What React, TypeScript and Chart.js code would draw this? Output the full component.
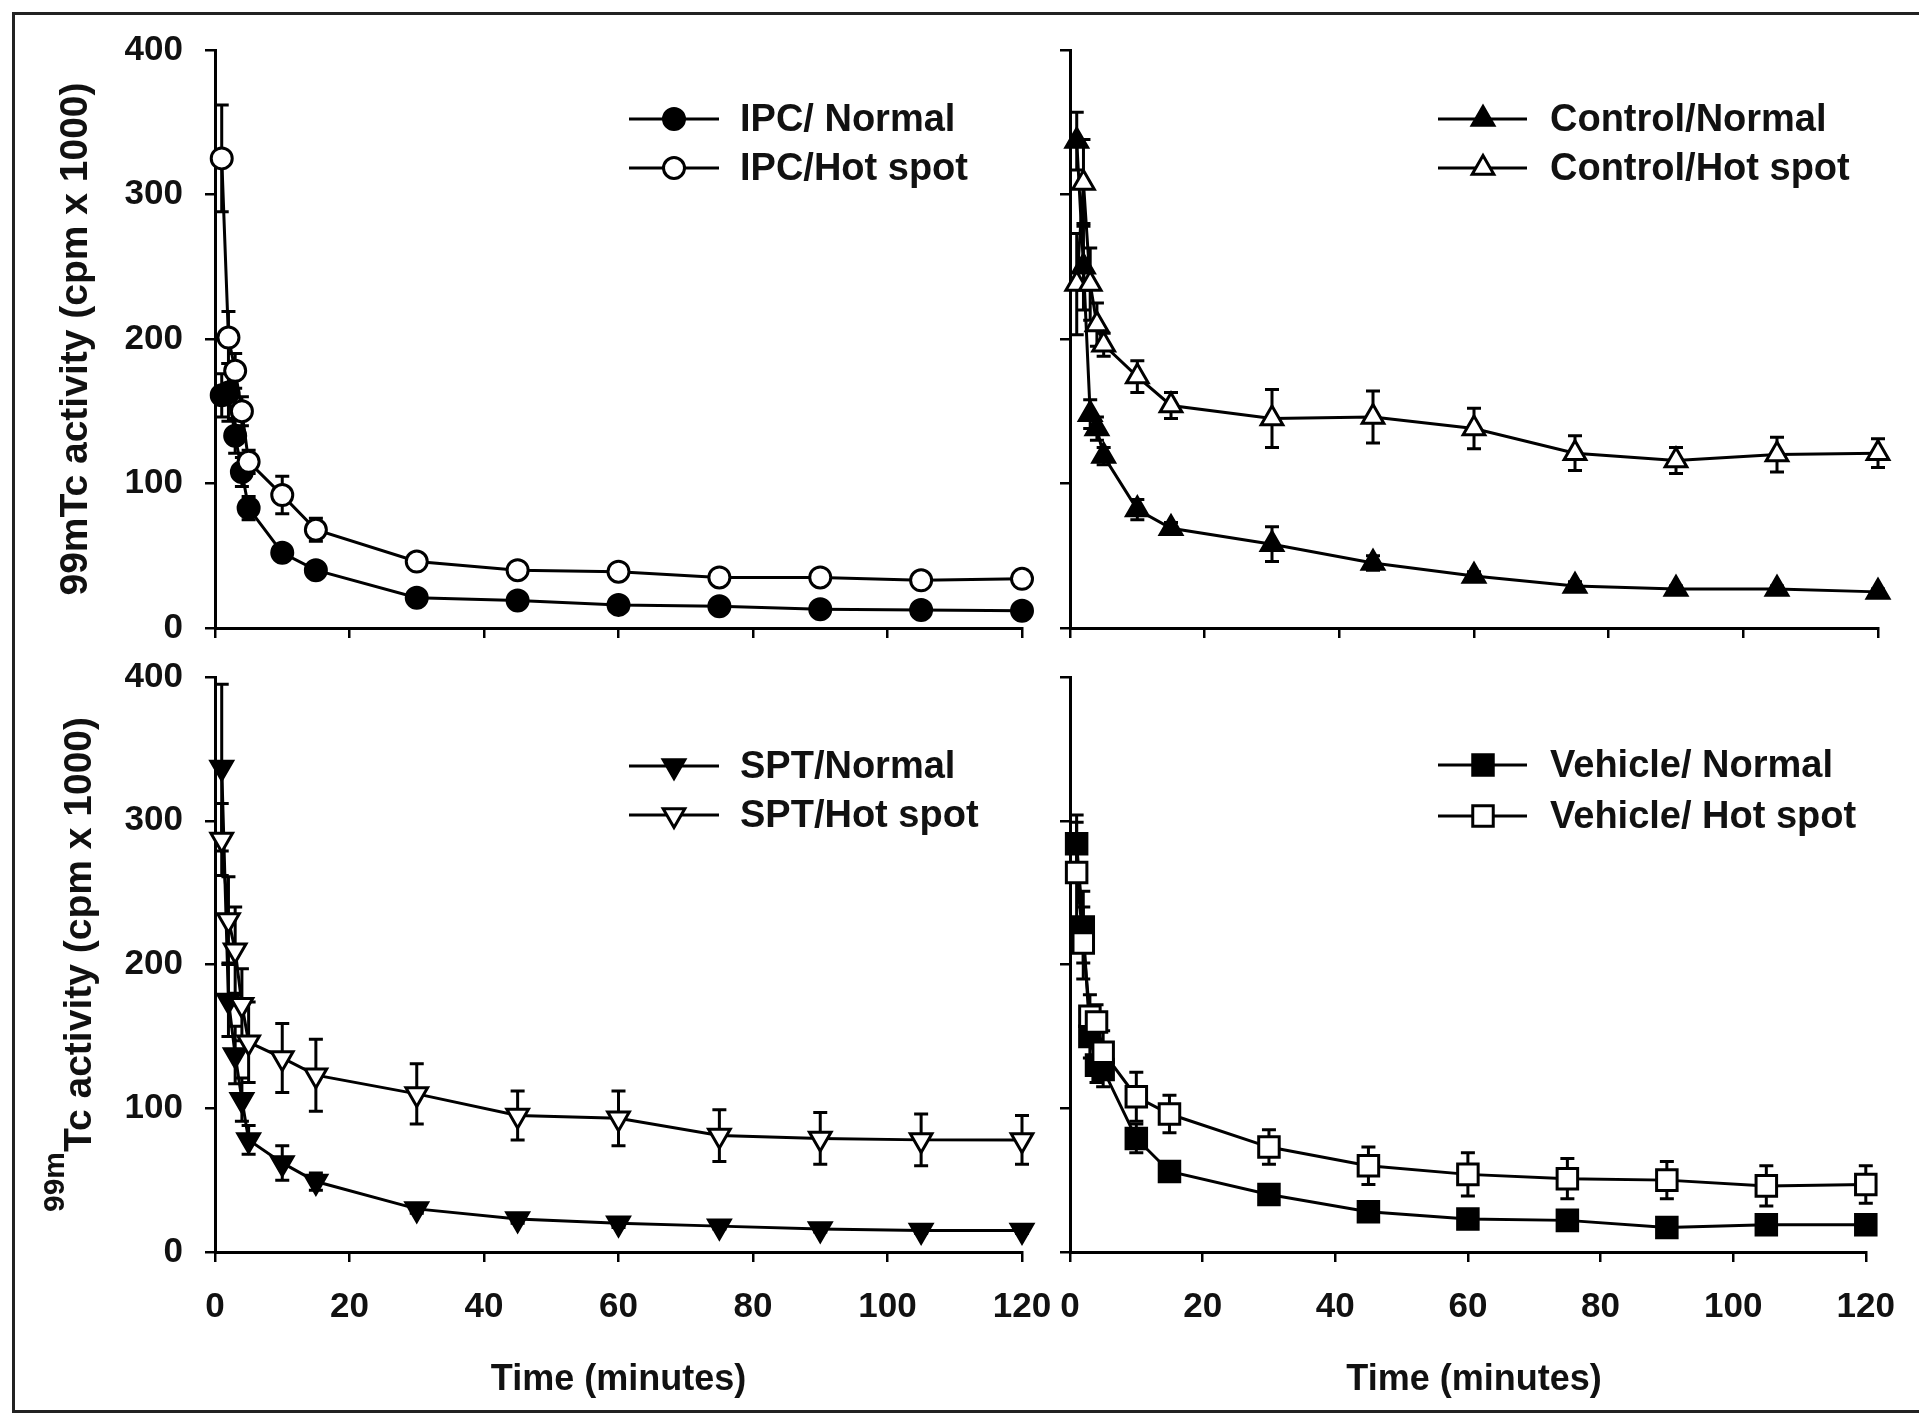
import React, { useEffect, useRef } from 'react';
import { Chart, registerables } from 'chart.js';

Chart.register(...registerables);

// ---------------- data ----------------
const TIMES = [1, 2, 3, 4, 5, 10, 15, 30, 45, 60, 75, 90, 105, 120];
const X_TICKS = [0, 20, 40, 60, 80, 100, 120];
const Y_TICKS = [0, 100, 200, 300, 400];

const IPC_LABELS = ['IPC/ Normal', 'IPC/Hot spot'];
const IPC_NORMAL = [161, 163, 133, 108, 83, 52, 40, 21, 19, 16, 15, 13, 12.5, 12];
const IPC_NORMAL_ERR = [15, 20, 12, 10, 8, 4, 3, 3, 3, 2, 2, 2, 2, 2];
const IPC_HOT = [325, 201, 178, 150, 115, 92, 68, 46, 40, 39, 35, 35, 33, 34];
const IPC_HOT_ERR = [37, 18, 12, 10, 8, 13, 8, 4, 3, 3, 3, 3, 3, 3];

const CONTROL_LABELS = ['Control/Normal', 'Control/Hot spot'];
const CONTROL_NORMAL = [337, 250, 148, 138, 119, 82, 69, 58, 45, 36, 29, 27, 27, 25];
const CONTROL_NORMAL_ERR = [20, 30, 10, 8, 6, 7, 4, 12, 5, 3, 3, 2, 2, 2];
const CONTROL_HOT = [238, 308, 238, 210, 196, 174, 154, 145, 146, 138, 121, 116, 120, 121];
const CONTROL_HOT_ERR = [35, 30, 25, 15, 8, 11, 9, 20, 18, 14, 12, 9, 12, 10];

const SPT_LABELS = ['SPT/Normal', 'SPT/Hot spot'];
const SPT_NORMAL = [337, 175, 137, 106, 78, 62, 49, 30, 23, 20, 18, 16, 15, 15];
const SPT_NORMAL_ERR = [58, 25, 20, 15, 10, 12, 6, 3, 3, 3, 2, 2, 2, 2];
const SPT_HOT = [287, 231, 210, 172, 146, 135, 123, 110, 95, 93, 81, 79, 78, 78];
const SPT_HOT_ERR = [25, 30, 30, 25, 28, 24, 25, 21, 17, 19, 18, 18, 18, 17];

const VEHICLE_LABELS = ['Vehicle/ Normal', 'Vehicle/ Hot spot'];
const VEHICLE_NORMAL = [284, 226, 150, 130, 127, 79, 56, 40, 28, 23, 22, 17, 19, 19];
const VEHICLE_NORMAL_ERR = [20, 25, 15, 12, 12, 10, 7, 4, 3, 3, 3, 3, 3, 3];
const VEHICLE_HOT = [264, 215, 164, 160, 139, 108, 96, 73, 60, 54, 51, 50, 46, 47];
const VEHICLE_HOT_ERR = [35, 25, 15, 12, 15, 17, 13, 12, 13, 15, 14, 13, 14, 13];

const Y_TITLE_SUP = '99m';
const Y_TITLE_MAIN = 'Tc activity (cpm x 1000)';
const X_TITLE = 'Time (minutes)';

// ---------------- layout / style ----------------
const W = 1919;
const H = 1413;
const FONT = "'Liberation Sans', Arial, Helvetica, sans-serif";
const TICK_FONT_SIZE = 35;
const LEGEND_FONT_SIZE = 38;
const XTITLE_FONT_SIZE = 36;
const YTITLE_FONT_SIZE = 39;
const YSUP_FONT_SIZE = 30;
const CAP = 7;
const LW = 3;
const INK = '#111';

type Series = {
  label: string;
  values: number[];
  errors: number[];
  style: string;
  rotation: number;
  filled: boolean;
  radius: number;
};

type Panel = {
  area: { l: number; r: number; t: number; b: number };
  series: Series[];
  showXLabels: boolean;
  showYLabels: boolean;
  legend: { x1: number; x2: number; mx: number; tx: number; rows: number[] };
  yTitle?: { x: number; sup: string; main: string; supOffset: number };
  xTitle?: { y: number; text: string };
};

const mk = (
  label: string,
  values: number[],
  errors: number[],
  style: string,
  rotation: number,
  filled: boolean,
  radius: number
): Series => ({ label, values, errors, style, rotation, filled, radius });

const PANELS: Panel[] = [
  {
    area: { l: 215, r: 1022, t: 50, b: 628 },
    series: [
      mk(IPC_LABELS[0], IPC_NORMAL, IPC_NORMAL_ERR, 'circle', 0, true, 10.5),
      mk(IPC_LABELS[1], IPC_HOT, IPC_HOT_ERR, 'circle', 0, false, 10.5),
    ],
    showXLabels: false,
    showYLabels: true,
    legend: { x1: 629, x2: 719, mx: 674, tx: 740, rows: [119, 168] },
    yTitle: { x: 76, sup: '', main: Y_TITLE_SUP + Y_TITLE_MAIN, supOffset: 0 },
  },
  {
    area: { l: 1070, r: 1878, t: 50, b: 628 },
    series: [
      mk(CONTROL_LABELS[0], CONTROL_NORMAL, CONTROL_NORMAL_ERR, 'triangle', 0, true, 12.5),
      mk(CONTROL_LABELS[1], CONTROL_HOT, CONTROL_HOT_ERR, 'triangle', 0, false, 12.5),
    ],
    showXLabels: false,
    showYLabels: false,
    legend: { x1: 1438, x2: 1527, mx: 1483, tx: 1550, rows: [119, 168] },
  },
  {
    area: { l: 215, r: 1022, t: 677, b: 1252 },
    series: [
      mk(SPT_LABELS[0], SPT_NORMAL, SPT_NORMAL_ERR, 'triangle', 180, true, 12.5),
      mk(SPT_LABELS[1], SPT_HOT, SPT_HOT_ERR, 'triangle', 180, false, 12.5),
    ],
    showXLabels: true,
    showYLabels: true,
    legend: { x1: 629, x2: 719, mx: 674, tx: 740, rows: [766, 815] },
    yTitle: { x: 80, sup: Y_TITLE_SUP, main: Y_TITLE_MAIN, supOffset: -24 },
    xTitle: { y: 1380, text: X_TITLE },
  },
  {
    area: { l: 1070, r: 1878, t: 677, b: 1252 },
    series: [
      mk(VEHICLE_LABELS[0], VEHICLE_NORMAL, VEHICLE_NORMAL_ERR, 'rect', 0, true, 14.5),
      mk(VEHICLE_LABELS[1], VEHICLE_HOT, VEHICLE_HOT_ERR, 'rect', 0, false, 14.5),
    ],
    showXLabels: true,
    showYLabels: false,
    legend: { x1: 1438, x2: 1527, mx: 1483, tx: 1550, rows: [765, 816] },
    xTitle: { y: 1380, text: X_TITLE },
  },
];

function drawMarker(ctx: CanvasRenderingContext2D, s: Series, x: number, y: number) {
  const r = s.radius;
  ctx.beginPath();
  if (s.style === 'circle') {
    ctx.arc(x, y, r, 0, Math.PI * 2);
  } else if (s.style === 'triangle') {
    let rad = (s.rotation * Math.PI) / 180;
    ctx.moveTo(x + Math.sin(rad) * r, y - Math.cos(rad) * r);
    rad += (2 * Math.PI) / 3;
    ctx.lineTo(x + Math.sin(rad) * r, y - Math.cos(rad) * r);
    rad += (2 * Math.PI) / 3;
    ctx.lineTo(x + Math.sin(rad) * r, y - Math.cos(rad) * r);
    ctx.closePath();
  } else {
    const h = Math.SQRT1_2 * r;
    ctx.rect(x - h, y - h, 2 * h, 2 * h);
  }
  ctx.fillStyle = s.filled ? '#000' : '#fff';
  ctx.fill();
  ctx.lineWidth = LW;
  ctx.strokeStyle = '#000';
  ctx.stroke();
}

function makeDecor(panel: Panel) {
  return {
    id: 'decor',
    beforeDatasetsDraw(chart: any) {
      const ctx: CanvasRenderingContext2D = chart.ctx;
      const xs = chart.scales.x;
      const ys = chart.scales.y;
      ctx.save();
      ctx.strokeStyle = '#000';
      ctx.lineWidth = LW;
      panel.series.forEach((s) => {
        s.values.forEach((v, j) => {
          const e = s.errors[j];
          if (!e) return;
          const x = xs.getPixelForValue(TIMES[j]);
          const y1 = ys.getPixelForValue(v + e);
          const y2 = ys.getPixelForValue(Math.max(0, v - e));
          ctx.beginPath();
          ctx.moveTo(x, y1);
          ctx.lineTo(x, y2);
          ctx.moveTo(x - CAP, y1);
          ctx.lineTo(x + CAP, y1);
          ctx.moveTo(x - CAP, y2);
          ctx.lineTo(x + CAP, y2);
          ctx.stroke();
        });
      });
      ctx.restore();
    },
    afterDraw(chart: any) {
      const ctx: CanvasRenderingContext2D = chart.ctx;
      const a = panel.area;
      ctx.save();
      // legend
      const lg = panel.legend;
      panel.series.forEach((s, i) => {
        const y = lg.rows[i];
        ctx.beginPath();
        ctx.moveTo(lg.x1, y);
        ctx.lineTo(lg.x2, y);
        ctx.lineWidth = LW;
        ctx.strokeStyle = '#000';
        ctx.stroke();
        drawMarker(ctx, s, lg.mx, y);
        ctx.fillStyle = INK;
        ctx.font = `bold ${LEGEND_FONT_SIZE}px ${FONT}`;
        ctx.textAlign = 'left';
        ctx.textBaseline = 'middle';
        ctx.fillText(s.label, lg.tx, y + 2);
      });
      // y title
      if (panel.yTitle) {
        const t = panel.yTitle;
        const cy = (a.t + a.b) / 2;
        ctx.translate(t.x, cy);
        ctx.rotate(-Math.PI / 2);
        ctx.fillStyle = INK;
        ctx.textBaseline = 'middle';
        ctx.textAlign = 'left';
        ctx.font = `bold ${YSUP_FONT_SIZE}px ${FONT}`;
        const ws = t.sup ? ctx.measureText(t.sup).width : 0;
        ctx.font = `bold ${YTITLE_FONT_SIZE}px ${FONT}`;
        const wm = ctx.measureText(t.main).width;
        let sx = -(ws + wm) / 2;
        if (t.sup) {
          ctx.font = `bold ${YSUP_FONT_SIZE}px ${FONT}`;
          ctx.fillText(t.sup, sx, t.supOffset);
          sx += ws;
        }
        ctx.font = `bold ${YTITLE_FONT_SIZE}px ${FONT}`;
        ctx.fillText(t.main, sx, 0);
        ctx.setTransform(1, 0, 0, 1, 0, 0);
      }
      // x title
      if (panel.xTitle) {
        ctx.fillStyle = INK;
        ctx.font = `bold ${XTITLE_FONT_SIZE}px ${FONT}`;
        ctx.textAlign = 'center';
        ctx.textBaseline = 'middle';
        ctx.fillText(panel.xTitle.text, (a.l + a.r) / 2, panel.xTitle.y);
      }
      ctx.restore();
    },
  };
}

function PanelChart({ panel }: { panel: Panel }) {
  const ref = useRef<HTMLCanvasElement>(null);
  useEffect(() => {
    const canvas = ref.current;
    if (!canvas) return;
    const a = panel.area;
    const tickFont = { family: FONT, size: TICK_FONT_SIZE, weight: 'bold' as const };
    const chart = new Chart(canvas, {
      type: 'line',
      data: {
        datasets: panel.series.map((s) => ({
          label: s.label,
          data: TIMES.map((t, j) => ({ x: t, y: s.values[j] })),
          borderColor: '#000',
          borderWidth: LW,
          pointStyle: s.style as any,
          pointRotation: s.rotation,
          pointRadius: s.radius,
          pointHoverRadius: s.radius,
          pointBackgroundColor: s.filled ? '#000' : '#fff',
          pointBorderColor: '#000',
          pointBorderWidth: LW,
          fill: false,
          tension: 0,
          clip: false as any,
          order: s.filled ? 1 : 0,
        })),
      },
      options: {
        animation: false,
        responsive: false,
        events: [],
        layout: { padding: { left: 0, top: a.t, right: W - a.r, bottom: 0 } },
        plugins: { legend: { display: false }, tooltip: { enabled: false } },
        scales: {
          x: {
            type: 'linear',
            position: 'bottom',
            min: 0,
            max: 120,
            afterBuildTicks: (s: any) => {
              s.ticks = X_TICKS.map((v) => ({ value: v }));
            },
            afterFit: (s: any) => {
              s.height = H - a.b;
            },
            grid: {
              drawOnChartArea: false,
              drawTicks: true,
              tickLength: 10,
              color: '#000',
              lineWidth: 2.5,
            },
            border: { display: true, color: '#000', width: 3 },
            ticks: {
              display: panel.showXLabels,
              padding: 24,
              font: tickFont,
              color: INK,
              maxRotation: 0,
              autoSkip: false,
            },
          },
          y: {
            type: 'linear',
            position: 'left',
            min: 0,
            max: 400,
            afterBuildTicks: (s: any) => {
              s.ticks = Y_TICKS.map((v) => ({ value: v }));
            },
            afterFit: (s: any) => {
              s.width = a.l;
            },
            grid: {
              drawOnChartArea: false,
              drawTicks: true,
              tickLength: 10,
              color: '#000',
              lineWidth: 2.5,
            },
            border: { display: true, color: '#000', width: 3 },
            ticks: {
              display: panel.showYLabels,
              padding: 22,
              font: tickFont,
              color: INK,
              autoSkip: false,
            },
          },
        },
      },
      plugins: [makeDecor(panel)],
    } as any);
    return () => chart.destroy();
  }, [panel]);
  return (
    <canvas
      ref={ref}
      width={W}
      height={H}
      style={{ position: 'absolute', left: 0, top: 0, width: W, height: H }}
    />
  );
}

export default function App() {
  return (
    <div
      style={{
        position: 'absolute',
        left: 0,
        top: 0,
        width: W,
        height: H,
        background: '#fff',
        overflow: 'hidden',
      }}
    >
      <div
        style={{
          position: 'absolute',
          left: 12,
          top: 12,
          width: W + 20,
          height: H - 12,
          border: '3px solid #222',
          boxSizing: 'border-box',
        }}
      />
      {PANELS.map((p, i) => (
        <PanelChart key={i} panel={p} />
      ))}
    </div>
  );
}
